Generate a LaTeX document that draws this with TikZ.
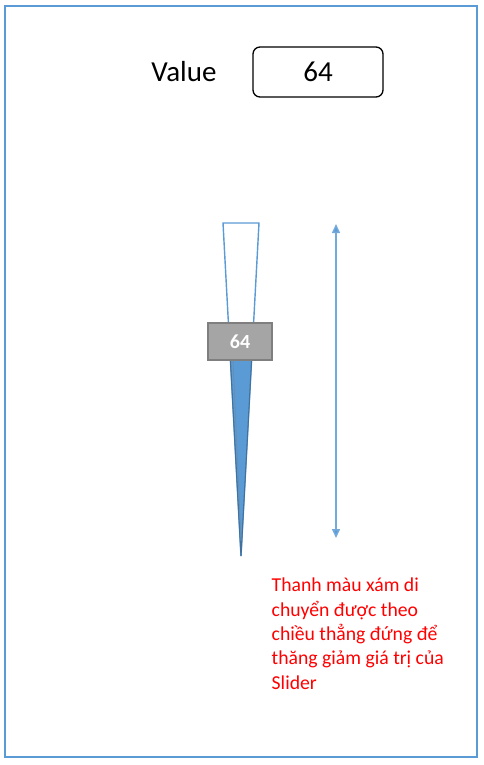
\documentclass[tikz,border=0pt]{standalone}
\usepackage{fontspec}
\setmainfont{Carlito}
\usetikzlibrary{arrows.meta}
\definecolor{frameblue}{HTML}{5B9BD5}
\definecolor{darkblue}{HTML}{41719C}
\definecolor{boxgray}{HTML}{A5A5A5}
\definecolor{boxedge}{HTML}{7F7F7F}
\definecolor{redtext}{HTML}{FF0000}
\tikzset{
  lbl/.style={inner sep=0pt, font=\fontsize{29}{34}\selectfont},
  valbox/.style={draw=black, line width=1.3pt, rounded corners=7pt, fill=white},
  thumb/.style={draw=boxedge, line width=1.5pt, fill=boxgray, text=white, inner sep=0pt, font=\bfseries\fontsize{20}{24}\selectfont},
  note/.style={text=redtext, inner sep=0pt, align=left, font=\fontsize{19.7}{24.3}\selectfont},
  dimarrow/.style={draw=frameblue!85, line width=1.5pt, {Triangle[length=9pt,width=8pt,fill=frameblue]}-{Triangle[length=9pt,width=8pt,fill=frameblue]}}
}
\begin{document}
\begin{tikzpicture}[x=1pt,y=-1pt]
\useasboundingbox (0,0) rectangle (484,765);
% frame
\draw[frameblue, line width=2pt] (5,6) rectangle (477,757);
% value label and box
\node[lbl] (vlabel) at (184,72) {Value};
\draw[valbox] (253,47) rectangle (383,97);
\node[lbl] (vbox) at (318,72) {64};
% slider track
\draw[frameblue, line width=1.4pt, fill=white] (223,223) -- (259,223) -- (241,556) -- cycle;
\fill[frameblue] (230.4,360) -- (251.6,360) -- (241,556) -- cycle;
\draw[darkblue, line width=1.1pt] (230.4,360) -- (241,556) -- (251.6,360);
\draw[darkblue!80, line width=0.8pt] (233,360) -- (241,540);
% thumb
\node[thumb, minimum width=64pt, minimum height=37pt] (thumb) at (240,341.5) {64};
% dimension arrow
\coordinate (atop) at (336,224);
\coordinate (abot) at (336,538);
\draw[dimarrow] (atop) -- (abot);
% note
\node[note, anchor=north west] (note) at (271.5,578) {Thanh màu xám di\\chuyển được theo\\chiều thẳng đứng để\\thăng giảm giá trị của\\Slider};
\end{tikzpicture}
\end{document}
